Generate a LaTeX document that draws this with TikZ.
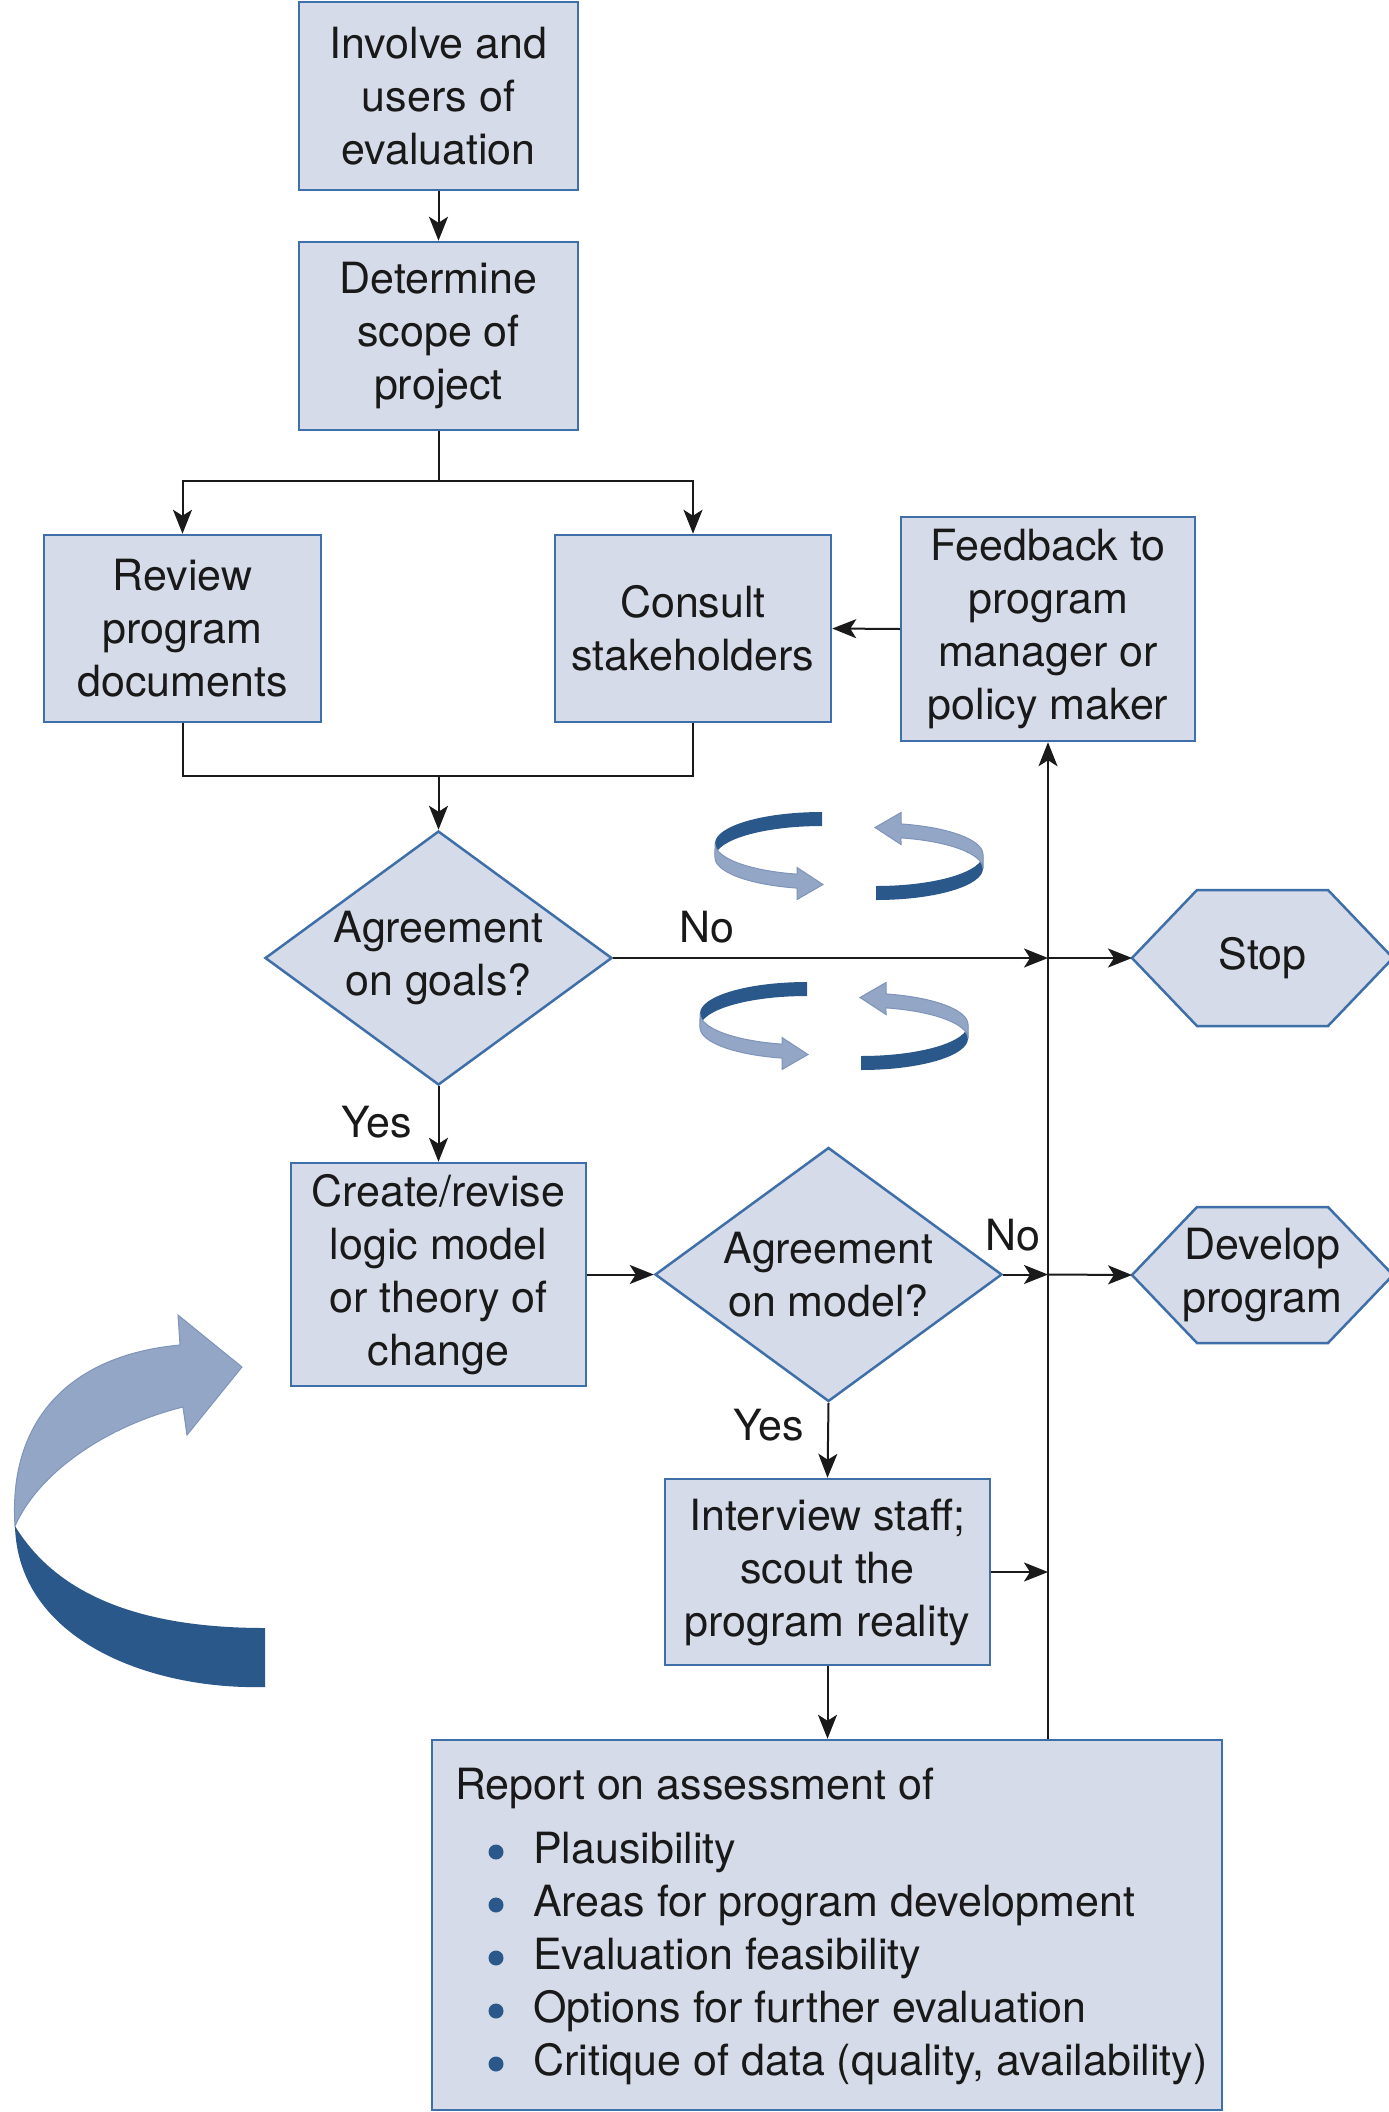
\documentclass[tikz,border=0pt]{standalone}
\usepackage{fontspec}
\setmainfont{TeX Gyre Heros}
\usetikzlibrary{arrows.meta,shapes.geometric}
\definecolor{boxfill}{HTML}{D5DBE8}
\definecolor{boxline}{HTML}{3F6FA8}
\definecolor{darkrib}{HTML}{2B588A}
\definecolor{lightrib}{HTML}{94A6C6}
\definecolor{lightribline}{HTML}{7E94BA}
\definecolor{linecol}{HTML}{1A1A1A}
\definecolor{bulletcol}{HTML}{2B588A}
\begin{document}
\begin{tikzpicture}[x=1pt,y=-1pt,
  every node/.style={font=\fontsize{43}{53}\selectfont, text=black!90},
  box/.style={draw=boxline, fill=boxfill, line width=2.5pt, align=center, inner sep=0pt},
  dia/.style={diamond, shape aspect=1.37, draw=boxline, fill=boxfill, line width=2.5pt, align=center, inner sep=0pt, minimum width=347pt, minimum height=254pt},
  hexa/.style={draw=boxline, fill=boxfill, line width=2.5pt, line join=miter},
  ln/.style={draw=linecol, line width=2pt},
  arr/.style={ln, -{Stealth[length=24pt,width=19pt,inset=6pt]}},
  lbl/.style={inner sep=0pt},
  ribbon/.pic={
    \fill[darkrib] (0,-31.5) arc[start angle=270,end angle=180,x radius=107,y radius=31.5] -- ++(0,14) arc[start angle=180,end angle=270,x radius=107,y radius=31.5] -- cycle;
    \filldraw[fill=lightrib, draw=lightribline, line width=1pt] (-107,0) arc[start angle=180,end angle=103.5,x radius=107,y radius=31.5] -- (-25,24) -- (1,41) -- (-25,56) -- (-25,44.6) arc[start angle=103.5,end angle=180,x radius=107,y radius=31.5] -- cycle;
  }
]
\clip (0,0) rectangle (1389,2112);

% boxes
\node[box, minimum width=279pt, minimum height=188pt] (inv) at (438.5,96) {Involve and\\users of\\evaluation};
\node[box, minimum width=279pt, minimum height=188pt] (det) at (438.5,336) {Determine\\scope of\\project};
\node[box, minimum width=277pt, minimum height=187pt] (review) at (182.5,628.5) {Review\\program\\documents};
\node[box, minimum width=276pt, minimum height=187pt] (consult) at (693,628.5) {Consult\\stakeholders};
\node[box, minimum width=294pt, minimum height=224pt] (feedback) at (1048,629) {Feedback to\\program\\manager or\\policy maker};
\node[dia] (d1) at (438.5,958) {Agreement\\on goals?};
\node[box, minimum width=295pt, minimum height=223pt] (create) at (438.5,1274.5) {Create/revise\\logic model\\or theory of\\change};
\node[dia] (d2) at (828.5,1274.5) {Agreement\\on model?};
\node[box, minimum width=325pt, minimum height=186pt] (interview) at (827.5,1572) {Interview staff;\\scout the\\program reality};
\node[box, minimum width=790pt, minimum height=370pt] (report) at (827,1925) {};

% report text
\node[lbl, anchor=west] (rep0) at (455,1788) {Report on assessment of};
\node[lbl, anchor=west] (rep1) at (533,1852) {Plausibility};
\node[lbl, anchor=west] (rep2) at (533,1905) {Areas for program development};
\node[lbl, anchor=west] (rep3) at (533,1958) {Evaluation feasibility};
\node[lbl, anchor=west] (rep4) at (533,2011) {Options for further evaluation};
\node[lbl, anchor=west] (rep5) at (533,2064) {Critique of data (quality, availability)};
\foreach \yy in {1852,1905,1958,2011,2064} \fill[bulletcol] (496,\yy) circle[radius=7.5pt];

% hexagons
\draw[hexa] (1132,958) -- (1197,890) -- (1328,890) -- (1393,958) -- (1328,1026) -- (1197,1026) -- cycle;
\coordinate (stopL) at (1132,958);
\node[lbl] (stop) at (1262.5,958) {Stop};
\draw[hexa] (1132,1275) -- (1197,1207) -- (1328,1207) -- (1393,1275) -- (1328,1343) -- (1197,1343) -- cycle;
\coordinate (devL) at (1132,1275);
\node[lbl, align=center] (dev) at (1262.5,1275) {Develop\\program};

% connectors
\draw[arr] (inv) -- (det);
\coordinate (split) at (438.5,481);
\draw[ln] (det.south) -- (split);
\draw[arr] (split) -| (review.north);
\draw[arr] (split) -| (consult.north);
\draw[arr] (feedback.west) -- (consult.east);
\coordinate (merge) at (438.5,776);
\draw[ln] (review.south) |- (merge);
\draw[ln] (consult.south) |- (merge);
\draw[arr] (merge) -- (d1.north);

\coordinate (j1) at (feedback.south |- d1.east);
\draw[arr] (d1.east) -- (j1);
\draw[arr] (j1) -- (stopL);
\node[lbl] (no1) at (707,927) {No};

\draw[arr] (d1.south) -- (create.north);
\node[lbl] (yes1) at (377,1122) {Yes};
\draw[arr] (create.east) -- (d2.west);

\coordinate (j2) at (feedback.south |- d2.east);
\draw[arr] (d2.east) -- (j2);
\draw[arr] (j2) -- (devL);
\node[lbl] (no2) at (1013,1235) {No};

\draw[arr] (d2.south) -- (interview.north);
\node[lbl] (yes2) at (769,1425) {Yes};

\coordinate (j3) at (feedback.south |- interview.east);
\draw[arr] (interview.east) -- (j3);
\draw[arr] (interview.south) -- (interview.south |- report.north);
\draw[arr] (feedback.south |- report.north) -- (feedback.south);

% circular ribbons
\pic at (822,843.5) {ribbon};
\pic[rotate=180] at (876,868.5) {ribbon};
\pic at (807,1013.5) {ribbon};
\pic[rotate=180] at (861,1038.5) {ribbon};

% big curved arrow
\coordinate (P) at (15,1526);
\fill[darkrib] (P) .. controls (18,1640) and (150,1690) .. (265,1687) -- (265,1628) .. controls (150,1628) and (60,1600) .. (P) -- cycle;
\filldraw[fill=lightrib, draw=lightribline, line width=1pt] (242,1367) -- (187,1435) -- (183,1407) .. controls (110,1425) and (40,1470) .. (P) .. controls (8,1420) and (70,1355) .. (180,1345) -- (178,1315) -- cycle;
\end{tikzpicture}
\end{document}
